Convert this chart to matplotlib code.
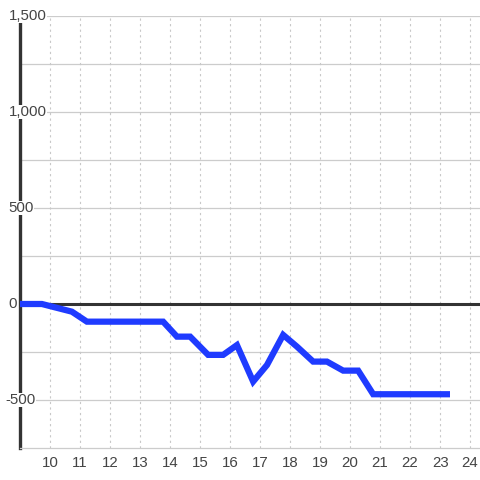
import matplotlib.pyplot as plt
import numpy as np

# data
hours = [9.0, 9.73, 10.73, 11.23, 13.77, 14.23, 14.67, 15.27, 15.77, 16.23,
         16.77, 17.23, 17.77, 18.23, 18.77, 19.23, 19.77, 20.27, 20.77, 23.33]
values = [0, 0, -40, -92, -92, -170, -170, -265, -265, -214,
          -404, -318, -161, -222, -300, -300, -347, -347, -470, -470]
x_ticks = list(range(10, 25))
y_ticks = [-500, 0, 500, 1000, 1500]

fig = plt.figure(figsize=(4.8, 4.8), dpi=100)
ax = fig.add_axes([20/480, 32/480, 460/480, 432/480])
ax.set_xlim(9.0, 24.33)
ax.set_ylim(-750, 1500)

# grid
for yv in np.arange(-500, 1501, 250):
    ax.axhline(yv, color='#cccccc', lw=0.9, zorder=1)
for xv in x_ticks:
    ax.axvline(xv, color='#c8c8c8', lw=0.8, ls=(0, (2, 3)), zorder=1)
ax.axhline(0, color='#333333', lw=2.2, zorder=2)

ax.plot(hours, values, color='#1f3bff', lw=4.5, solid_joinstyle='miter',
        solid_capstyle='butt', zorder=3)

for s in ['top', 'right']:
    ax.spines[s].set_visible(False)
ax.spines['bottom'].set_color('#cccccc')
ax.spines['bottom'].set_linewidth(0.9)
ax.spines['left'].set_color('#333333')
ax.spines['left'].set_linewidth(2.4)

ax.set_xticks(x_ticks)
ax.set_xticklabels([str(t) for t in x_ticks])
ax.set_yticks([])
ax.tick_params(axis='x', length=0, pad=6, labelsize=10.8, labelcolor='#444444')
for lab in ax.get_xticklabels():
    lab.set_family('Liberation Sans')

# y labels sit over the axis line with a white box
for yv in y_ticks:
    lab = f'{yv:,}'
    ax.text(8.52 if yv < 0 else 8.62, yv, lab, ha='left', va='center',
            fontsize=10.8, color='#444444', family='Liberation Sans', zorder=5,
            bbox=dict(facecolor='white', edgecolor='none', pad=0.3))

fig.savefig('out.png', dpi=100)
